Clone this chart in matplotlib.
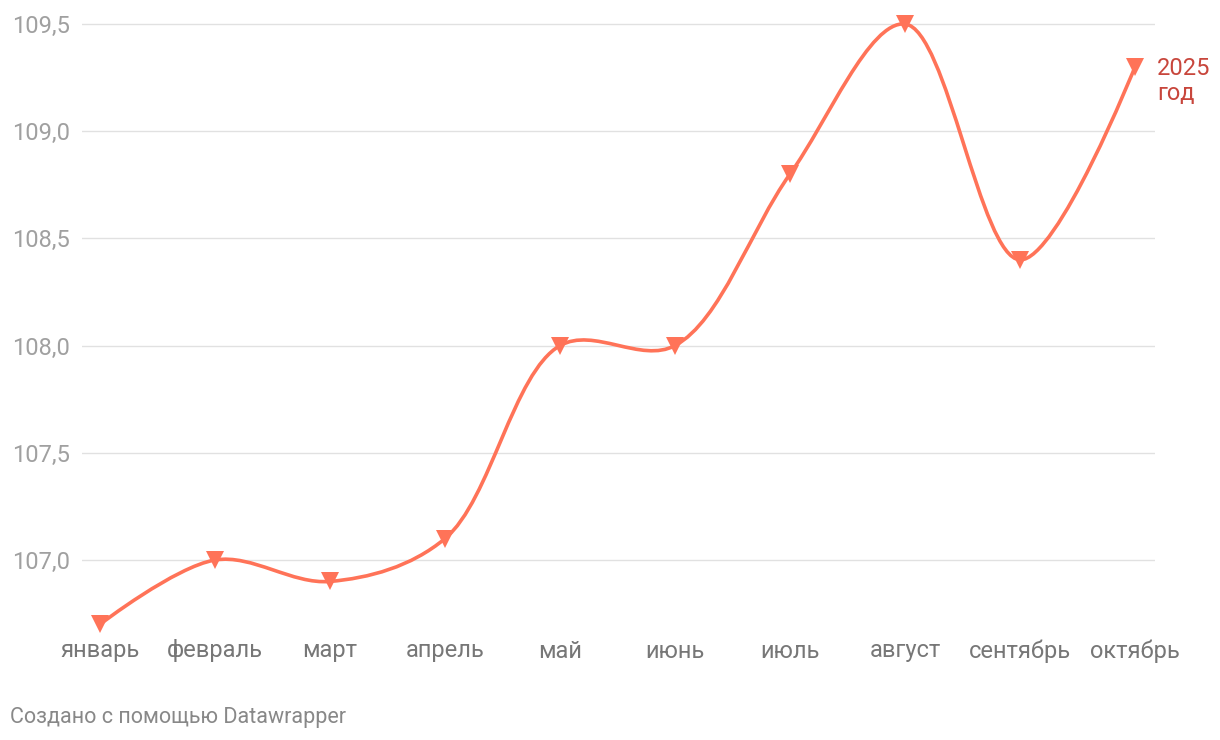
import numpy as np
import matplotlib
matplotlib.use("Agg")
import matplotlib.pyplot as plt
from matplotlib.path import Path
from matplotlib.patches import PathPatch

months = ["январь", "февраль", "март", "апрель", "май", "июнь", "июль",
          "август", "сентябрь", "октябрь"]
values = [106.7, 107.0, 106.9, 107.1, 108.0, 108.0, 108.8, 109.5, 108.4, 109.3]
yticks = [107.0, 107.5, 108.0, 108.5, 109.0, 109.5]
ytick_labels = ["107,0", "107,5", "108,0", "108,5", "109,0", "109,5"]
series_label = "2025\nгод"
footer = "Создано с помощью Datawrapper"

plt.rcParams['font.family'] = ['Roboto', 'DejaVu Sans']

W, H = 1220, 740
fig = plt.figure(figsize=(W / 100, H / 100), dpi=100)

# axes in pixel space
ax_l, ax_r, ax_t, ax_b = 82, 1155, 20, 640
ax = fig.add_axes([ax_l / W, 1 - ax_b / H, (ax_r - ax_l) / W, (ax_b - ax_t) / H])
px_x = 115.0            # pixels per month
px_y = 536.0 / 2.5      # pixels per unit
x0_px = 100
ax.set_xlim(-(x0_px - ax_l) / px_x, 9 + (ax_r - (x0_px + 9 * px_x)) / px_x)
ax.set_ylim(109.5 - (ax_b - 24) / px_y, 109.5 + (24 - ax_t) / px_y)
ax.axis('off')

color = "#ff7358"

# grid lines and y labels
for yv, lab in zip(yticks, ytick_labels):
    ax.axhline(yv, color="#e1e1e1", lw=1.0, zorder=0)
    fig.text(70 / W, 1 - (24 + (109.5 - yv) * px_y) / H, lab,
             ha='right', va='center_baseline', fontsize=17, color="#a0a0a0")

# Catmull-Rom (centripetal, d3 style) in pixel space
xs = np.arange(len(values), dtype=float)
P = np.column_stack([xs * px_x, np.array(values) * px_y])
alpha = 0.5
n = len(P)
verts = [P[0]]
codes = [Path.MOVETO]
for i in range(n - 1):
    p0 = P[i - 1] if i > 0 else None
    p1 = P[i]
    p2 = P[i + 1]
    p3 = P[i + 2] if i + 2 < n else None
    l12 = np.linalg.norm(p2 - p1)
    l12_a, l12_2a = l12 ** alpha, l12 ** (2 * alpha)
    c1 = p1.copy()
    if p0 is not None:
        l01 = np.linalg.norm(p1 - p0)
        l01_a, l01_2a = l01 ** alpha, l01 ** (2 * alpha)
        a = 2 * l01_2a + 3 * l01_a * l12_a + l12_2a
        nn = 3 * l01_a * (l01_a + l12_a)
        c1 = (p1 * a - p0 * l12_2a + p2 * l01_2a) / nn
    c2 = p2.copy()
    if p3 is not None:
        l23 = np.linalg.norm(p3 - p2)
        l23_a, l23_2a = l23 ** alpha, l23 ** (2 * alpha)
        b = 2 * l23_2a + 3 * l23_a * l12_a + l12_2a
        m = 3 * l23_a * (l23_a + l12_a)
        c2 = (p2 * b + p1 * l23_2a - p3 * l12_2a) / m
    verts += [c1, c2, p2]
    codes += [Path.CURVE4] * 3
verts = np.array(verts)
verts[:, 0] /= px_x
verts[:, 1] /= px_y
ax.add_patch(PathPatch(Path(verts, codes), fc='none', ec=color, lw=2.6,
                       capstyle='round', joinstyle='round', zorder=3))
ax.plot(xs, values, linestyle='none', marker='v', ms=12.5, color=color,
        markeredgewidth=0, zorder=4, clip_on=False)

# x labels
for i, m in enumerate(months):
    fig.text((x0_px + i * px_x) / W, 1 - 651 / H, m, ha='center', va='center',
             fontsize=17, color="#777777")

fig.text(1157 / W, 1 - 81 / H, series_label, ha='left', va='center',
         fontsize=17, color="#c8463c", linespacing=1.1)

fig.text(10 / W, 1 - 717 / H, footer, ha='left', va='center', fontsize=15.5,
         color="#888888")

fig.savefig("out.png", dpi=100, facecolor='white')
